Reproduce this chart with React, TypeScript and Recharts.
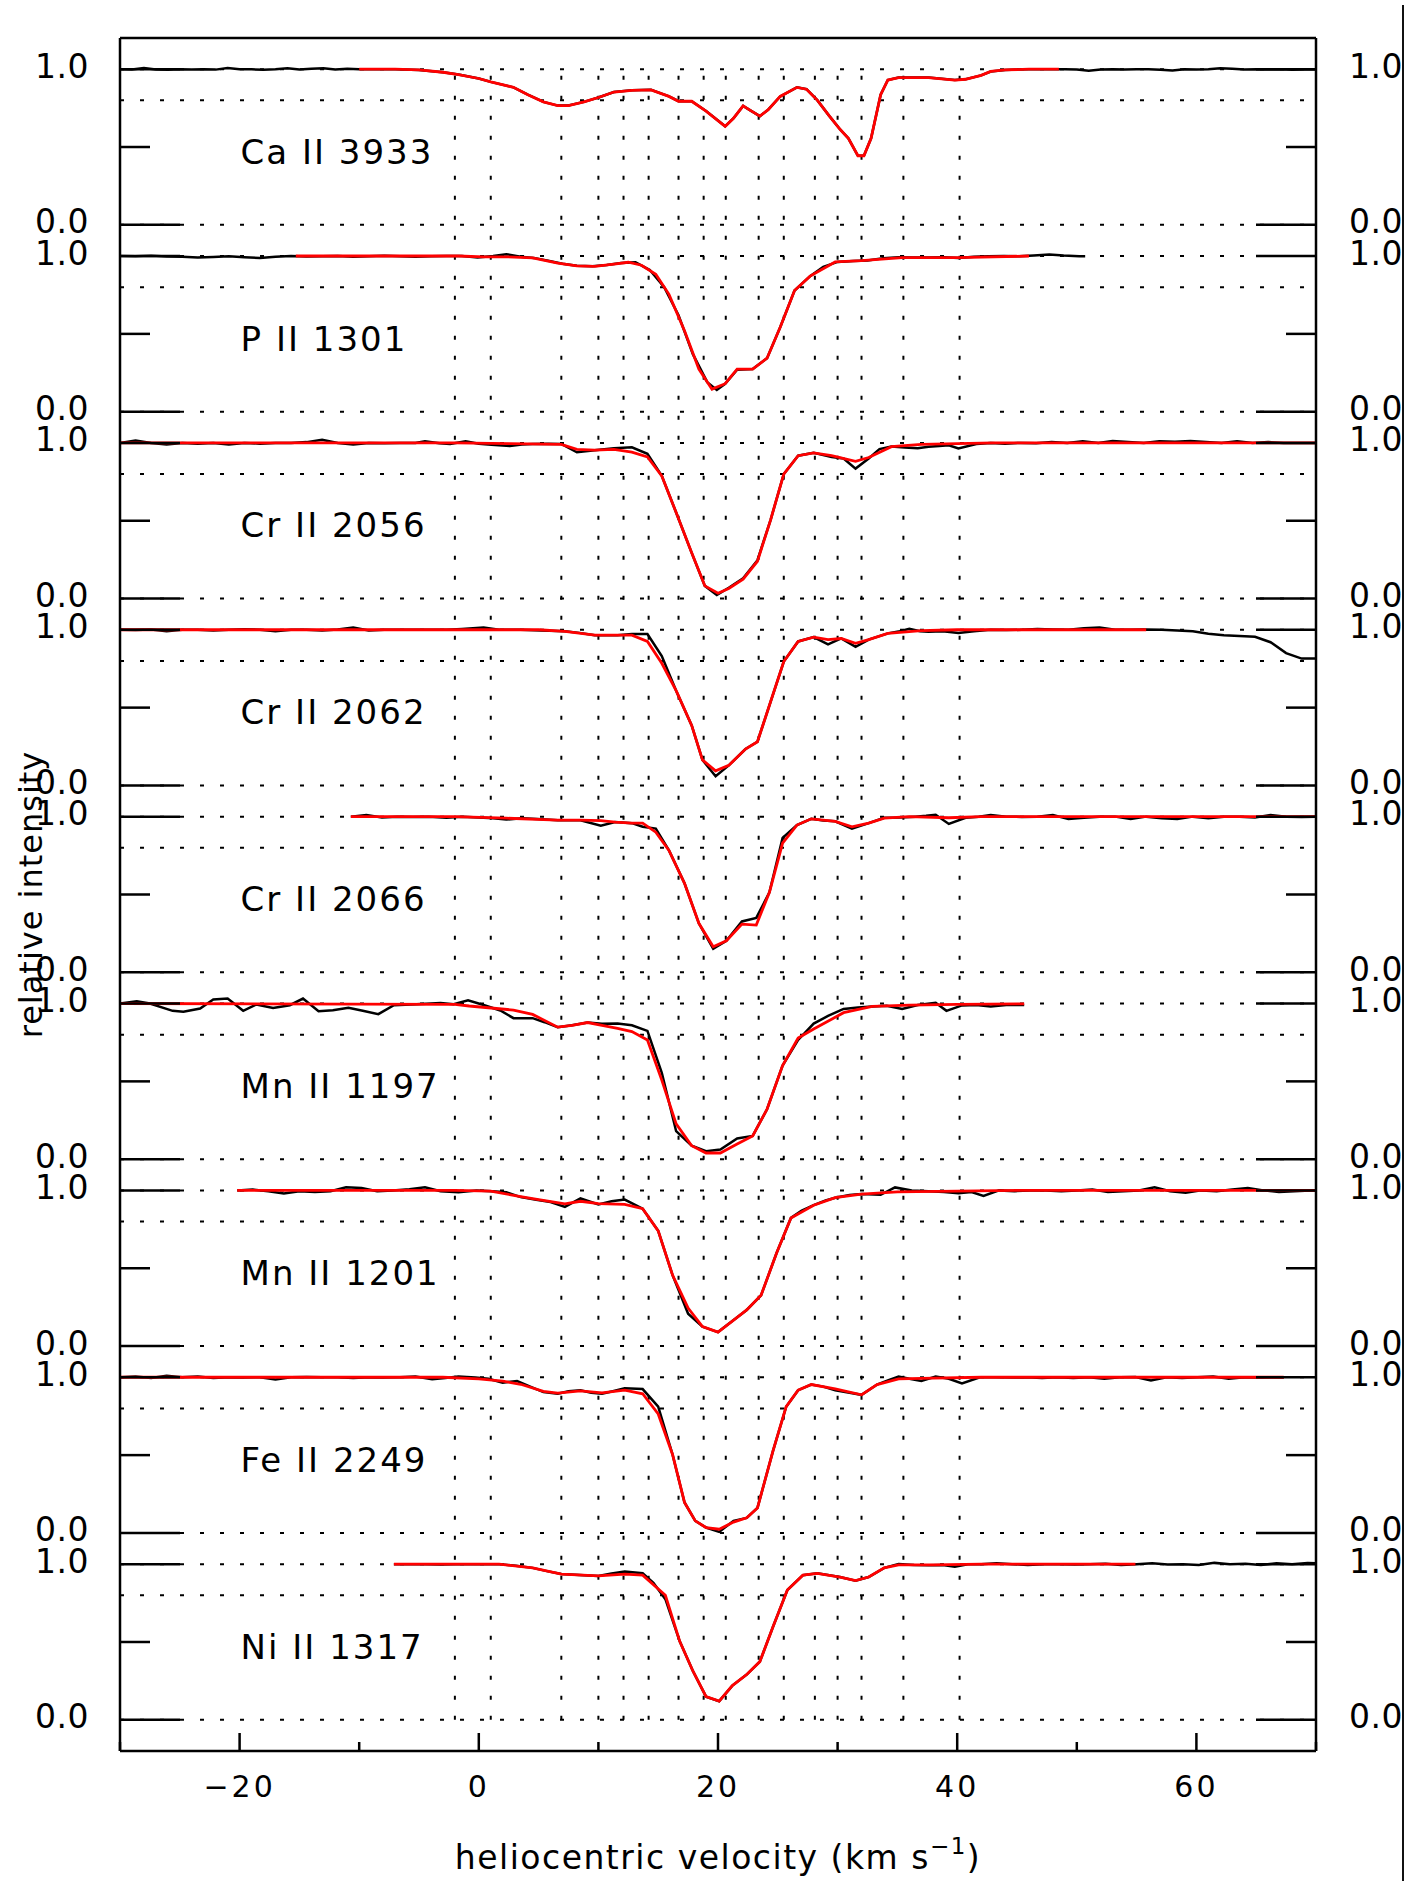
import React from 'react';
import { LineChart, Line, XAxis, YAxis, ReferenceLine, ReferenceDot, Label } from 'recharts';

type Pt = [number, number];

const panelNames = ['Ca II 3933', 'P II 1301', 'Cr II 2056', 'Cr II 2062', 'Cr II 2066', 'Mn II 1197', 'Mn II 1201', 'Fe II 2249', 'Ni II 1317'];

// velocity of the fitted components (dotted verticals)
const componentVel = [-2, 1, 6.9, 10, 12.1, 14.2, 16.7, 18.8, 20.65, 23.4, 25.5, 28.1, 30, 32, 35.5, 40.2];
const guideLevels = [0, 0.8, 1];

const xTicks = [-30, -20, -10, 0, 10, 20, 30, 40, 50, 60, 70];
const xTickLabels = ['', '\u221220', '', '0', '', '20', '', '40', '', '60', ''];
const yTickLabels = ['0.0', '', '1.0'];

// --- observed spectra (black) and fits (red): [velocity, relative intensity]
const caObs: Pt[] = [
  [-30, 1.0], [-29, 0.998], [-28, 1.008], [-27, 0.998], [-26, 0.996], [-25, 0.999], [-24, 0.997], [-23, 1.0], [-22, 0.997],
  [-21, 1.008], [-20, 1.0], [-19, 0.999], [-18, 0.996], [-17, 0.999], [-16, 1.006], [-15, 0.998], [-14, 1.003], [-13, 1.006],
  [-12, 0.998], [-11, 1.002], [-10, 1.0],
];
const caFit: Pt[] = [
  [-10, 1.0], [-7, 1.0], [-5, 0.995], [-3, 0.98], [-1.7, 0.965], [0, 0.94], [1, 0.918], [2.9, 0.883], [4.1, 0.836], [5.4, 0.79],
  [6.6, 0.766], [7.5, 0.766], [8.8, 0.79], [10, 0.818], [11.3, 0.853], [12.8, 0.864], [14.4, 0.867], [15.9, 0.825], [16.7, 0.794],
  [17.8, 0.794], [19, 0.731], [20.6, 0.633], [21.3, 0.685], [22.1, 0.764], [22.7, 0.735], [23.5, 0.698], [24.2, 0.74], [25.2, 0.825],
  [26.6, 0.883], [27.4, 0.871], [28.3, 0.801], [29.3, 0.7], [30.2, 0.614], [30.9, 0.556], [31.7, 0.444], [32.2, 0.444], [32.8, 0.556],
  [33.6, 0.836], [34.2, 0.93], [35.1, 0.946], [37.6, 0.946], [39.8, 0.93], [40.7, 0.935], [42, 0.96], [42.8, 0.985], [44, 0.995],
  [46, 1.0], [48.5, 1.0],
];
const caObsRight: Pt[] = [
  [48.5, 1.0], [49, 1.0], [50, 0.998], [51, 0.99], [52, 0.998], [53, 1.0], [54, 0.997], [55, 0.999], [56, 1.0], [57, 0.996],
  [58, 0.992], [59, 0.999], [60, 0.997], [61, 1.0], [62, 1.006], [63, 1.002], [64, 0.998], [65, 0.999], [66, 0.997], [67, 0.999],
  [68, 0.996], [69, 0.998], [70, 0.997],
];

const pObs: Pt[] = [
  [-30, 1.0], [-28.7, 0.998], [-27.4, 1.002], [-26.1, 0.997], [-24.8, 0.995], [-23.5, 0.99], [-22.2, 0.993], [-20.9, 0.998],
  [-19.6, 0.992], [-18.3, 0.988], [-17, 0.996], [-15.7, 1.0], [-14.4, 0.997], [-13.1, 0.999], [-11.8, 1.0], [-10.5, 0.996],
  [-9.2, 0.999], [-7.9, 1.002], [-6.6, 0.998], [-5.3, 0.995], [-4, 0.999], [-2.7, 1.0], [-1.4, 1.0], [-0.1, 0.99], [1.2, 1.0],
  [2.3, 1.012], [3.5, 0.995], [4.6, 0.988], [5.8, 0.97], [7, 0.95], [8.2, 0.937], [9.5, 0.934], [10.7, 0.942], [11.9, 0.955],
  [13.1, 0.96], [14.3, 0.91], [15.5, 0.8], [16.7, 0.62], [17.9, 0.37], [19.1, 0.19], [19.9, 0.14], [20.6, 0.18], [21.6, 0.27],
  [22.9, 0.275], [24.1, 0.344], [25.2, 0.543], [26.4, 0.778], [27.7, 0.871], [28.8, 0.93], [30, 0.962], [31.3, 0.968],
  [32.5, 0.972], [33.8, 0.985], [35.1, 0.992], [36.3, 0.99], [37.6, 0.99], [38.9, 0.992], [40.1, 0.988], [41.4, 0.996],
  [42.6, 0.998], [43.9, 1.0], [45.2, 0.998], [46.4, 1.004], [47.7, 1.01], [48.9, 1.003], [50.2, 0.998], [50.7, 0.998],
];
const pFit: Pt[] = [
  [-15.3, 1.0], [-5, 1.0], [-1.7, 1.0], [0.4, 0.995], [2.3, 0.995], [4.5, 0.988], [6.6, 0.955], [8.2, 0.937], [9.7, 0.934],
  [11.3, 0.948], [12.5, 0.96], [13.6, 0.941], [14.8, 0.883], [15.9, 0.754], [17.2, 0.52], [18.4, 0.274], [19.5, 0.145],
  [20.6, 0.18], [21.6, 0.274], [22.9, 0.274], [24.1, 0.344], [25.2, 0.543], [26.4, 0.778], [27.7, 0.871], [29.8, 0.962],
  [32, 0.97], [35.4, 0.99], [40.1, 0.99], [46, 1.0],
];

const cr56Obs: Pt[] = [
  [-30, 1.0], [-28.7, 1.015], [-27.4, 1.0], [-26.1, 0.99], [-24.8, 1.0], [-23.5, 0.995], [-22.2, 1.0], [-20.9, 0.99], [-19.6, 1.0],
  [-18.3, 0.995], [-17, 1.0], [-15.7, 1.0], [-14.4, 1.005], [-13.1, 1.02], [-11.8, 1.0], [-10.5, 0.99], [-9.2, 1.0], [-7.9, 0.998],
  [-6.6, 1.0], [-5.3, 1.0], [-4.5, 1.01], [-3.3, 0.998], [-2.4, 0.993], [-1.1, 1.01], [0, 0.995], [1.05, 0.988], [2.6, 0.98],
  [3.6, 0.99], [4.5, 0.993], [5.8, 0.995], [6.9, 0.993], [8.2, 0.94], [9.7, 0.953], [11.3, 0.965], [12.8, 0.972], [14.1, 0.93],
  [15.3, 0.788], [16.5, 0.553], [17.8, 0.294], [18.9, 0.082], [19.9, 0.024], [20.9, 0.07], [22.1, 0.13], [23.3, 0.247],
  [24.4, 0.506], [25.5, 0.8], [26.7, 0.918], [28, 0.936], [29.5, 0.91], [30.5, 0.9], [31.5, 0.835], [32.6, 0.9], [33.5, 0.96],
  [34.5, 0.976], [35.6, 0.97], [36.7, 0.965], [37.6, 0.975], [38.5, 0.98], [39.3, 0.985], [40.1, 0.965], [41.6, 0.993],
  [42.8, 1.0], [44, 0.995], [45.3, 1.0], [46.6, 0.998], [47.9, 1.005], [49.2, 1.0], [50.5, 1.01], [51.8, 1.0], [53, 1.012],
  [54.3, 1.005], [55.6, 1.0], [56.9, 1.01], [58.2, 1.008], [59.5, 1.012], [60.8, 1.005], [62.1, 1.0], [63.4, 1.01], [64.7, 1.0],
  [66, 1.005], [67.3, 1.0], [68.6, 1.0], [70, 1.0],
];
const cr56Fit: Pt[] = [
  [-30, 1.0], [-2, 1.0], [2.6, 0.995], [6.9, 0.99], [8.2, 0.958], [9.7, 0.953], [11.3, 0.958], [12.8, 0.94], [14.1, 0.91],
  [15.3, 0.788], [16.5, 0.553], [17.8, 0.294], [18.9, 0.082], [20, 0.035], [20.9, 0.065], [22.1, 0.125], [23.3, 0.24],
  [24.4, 0.506], [25.5, 0.8], [26.7, 0.918], [28, 0.936], [29.5, 0.918], [31.5, 0.882], [32.6, 0.906], [34.5, 0.976],
  [37, 0.99], [40, 0.995], [43, 1.0], [70, 1.0],
];

const cr62Obs: Pt[] = [
  [-30, 1.0], [-28.7, 0.998], [-27.4, 1.002], [-26.1, 0.99], [-24.8, 1.0], [-23.5, 1.0], [-22.2, 0.995], [-20.9, 1.0],
  [-19.6, 1.004], [-18.3, 1.0], [-17, 0.99], [-15.7, 1.0], [-14.4, 1.0], [-13.1, 0.995], [-11.8, 1.002], [-10.5, 1.015],
  [-9.2, 0.995], [-7.9, 1.0], [-6.6, 1.0], [-5.3, 1.0], [-4, 1.0], [-2.7, 1.0], [-1.4, 1.005], [0.4, 1.014], [1.7, 1.0],
  [3.5, 1.0], [5.2, 0.995], [7.2, 0.99], [8.4, 0.98], [9.7, 0.965], [11.6, 0.965], [12.8, 0.972], [14.1, 0.972], [15.3, 0.831],
  [16.5, 0.609], [17.8, 0.386], [18.7, 0.164], [19.8, 0.059], [20.9, 0.129], [22.3, 0.234], [23.3, 0.281], [24.3, 0.515],
  [25.5, 0.796], [26.7, 0.925], [28, 0.953], [29.2, 0.906], [30.3, 0.944], [31.5, 0.89], [32.6, 0.937], [34.2, 0.977],
  [35.2, 0.99], [36, 1.007], [36.9, 0.99], [37.6, 0.988], [38.8, 0.99], [40.1, 0.979], [41.4, 0.99], [42.8, 1.0], [44.1, 0.998],
  [45.4, 1.0], [46.7, 1.005], [48, 1.002], [49.3, 1.0], [50.6, 1.01], [51.9, 1.015], [53.2, 1.0], [54.5, 1.0], [55.8, 1.002],
  [57.1, 1.0], [58.4, 0.995], [59.7, 0.99], [61, 0.975], [62.3, 0.965], [63.6, 0.96], [64.9, 0.955], [66.2, 0.92], [67.5, 0.85],
  [68.8, 0.815], [70, 0.815],
];
const cr62Fit: Pt[] = [
  [-30, 1.0], [5, 1.0], [7.2, 0.99], [9.7, 0.965], [12.8, 0.965], [14.1, 0.925], [15.3, 0.785], [16.5, 0.609], [17.8, 0.386],
  [18.7, 0.164], [19.8, 0.094], [20.9, 0.129], [22.3, 0.234], [23.3, 0.281], [24.3, 0.515], [25.5, 0.796], [26.7, 0.925],
  [28, 0.953], [29.2, 0.937], [30.3, 0.944], [31.5, 0.913], [32.6, 0.937], [34.2, 0.977], [37, 0.995], [40, 1.0], [55.8, 1.0],
];

const cr66Obs: Pt[] = [
  [-10.7, 1.0], [-9.4, 1.01], [-8.1, 0.995], [-6.8, 1.0], [-5.5, 0.998], [-4.2, 1.0], [-2.7, 0.993], [-1.4, 1.0], [0, 0.995],
  [1.2, 0.99], [2.3, 0.981], [3.6, 0.99], [4.9, 0.985], [6.6, 0.977], [8.5, 0.977], [10.2, 0.942], [11.4, 0.965], [12.8, 0.958],
  [13.7, 0.935], [14.8, 0.923], [15.9, 0.783], [17.2, 0.572], [18.4, 0.315], [19.6, 0.152], [20.7, 0.203], [22, 0.327],
  [23.2, 0.35], [24.3, 0.514], [25.4, 0.864], [26.6, 0.946], [27.8, 0.986], [28.8, 0.975], [29.8, 0.97], [31.2, 0.923],
  [32.6, 0.958], [33.9, 0.993], [35.2, 0.995], [36.5, 1.0], [37.4, 1.005], [38.2, 1.012], [39.3, 0.953], [40.7, 0.993],
  [41.8, 1.0], [42.8, 1.01], [44.1, 1.0], [45.4, 0.998], [46.7, 1.0], [48, 1.01], [49.3, 0.985], [50.6, 0.993], [51.9, 1.0],
  [53.2, 1.0], [54.5, 0.985], [55.8, 1.0], [57.1, 0.99], [58.4, 0.985], [59.7, 1.0], [61, 0.99], [62.3, 1.0], [63.6, 1.0],
  [64.9, 0.995], [66.2, 1.01], [67.5, 1.0], [68.8, 0.998], [70, 1.0],
];
const cr66Fit: Pt[] = [
  [-10.7, 1.0], [-2, 1.0], [2.3, 0.99], [6.6, 0.977], [8.5, 0.977], [10.2, 0.974], [11.4, 0.965], [12.8, 0.958], [13.7, 0.958],
  [14.8, 0.9], [15.9, 0.783], [17.2, 0.572], [18.4, 0.315], [19.6, 0.164], [20.7, 0.203], [22, 0.31], [23.2, 0.304],
  [24.3, 0.514], [25.4, 0.83], [26.6, 0.946], [27.8, 0.986], [29.8, 0.97], [31.2, 0.935], [32.6, 0.958], [33.9, 0.99],
  [36, 1.0], [39.3, 0.993], [42, 1.0], [70, 1.0],
];

const mn97Obs: Pt[] = [
  [-30, 1.0], [-28.6, 1.015], [-27.5, 1.0], [-25.6, 0.953], [-24.7, 0.947], [-23.3, 0.968], [-22.2, 1.026], [-21, 1.032],
  [-19.7, 0.953], [-18.6, 0.994], [-17.2, 0.972], [-15.8, 0.989], [-14.7, 1.032], [-13.4, 0.951], [-12.2, 0.957],
  [-10.9, 0.972], [-9.7, 0.953], [-8.4, 0.932], [-7.1, 0.989], [-5.2, 0.996], [-3.2, 1.004], [-2.1, 0.995], [-0.9, 1.02],
  [0.4, 0.99], [1.8, 0.955], [2.9, 0.906], [4.5, 0.906], [5.5, 0.88], [6.6, 0.848], [7.8, 0.86], [9.1, 0.878], [10.3, 0.87],
  [11.6, 0.871], [12.8, 0.86], [14.1, 0.824], [15.3, 0.555], [16.5, 0.18], [17.8, 0.087], [19, 0.052], [20.2, 0.063],
  [21.6, 0.133], [22.9, 0.15], [24.1, 0.321], [25.4, 0.602], [26.7, 0.766], [28, 0.871], [29.2, 0.92], [30.5, 0.965],
  [31.7, 0.975], [32.9, 0.981], [34.1, 0.985], [35.4, 0.965], [36.7, 0.99], [38.2, 1.005], [39.1, 0.953], [40.4, 0.988],
  [41.6, 0.99], [42.8, 0.981], [44.1, 0.99], [45.6, 0.99],
];
const mn97Fit: Pt[] = [
  [-30, 1.0], [-2, 0.995], [-0.8, 0.984], [2.9, 0.958], [4.5, 0.93], [6.6, 0.848], [7.8, 0.86], [9.1, 0.878], [10.3, 0.86],
  [11.6, 0.841], [12.8, 0.82], [14.1, 0.766], [15.3, 0.508], [16.5, 0.227], [17.8, 0.087], [19, 0.04], [20.2, 0.04],
  [21.6, 0.098], [22.9, 0.15], [24.1, 0.321], [25.4, 0.602], [26.7, 0.778], [28, 0.836], [30.5, 0.941], [32.9, 0.981],
  [36, 0.99], [40, 0.995], [45.6, 0.998],
];

const mn01Obs: Pt[] = [
  [-20.2, 1.0], [-18.9, 1.005], [-17.6, 0.995], [-16.3, 0.98], [-15, 0.995], [-13.7, 0.99], [-12.4, 0.995], [-11.1, 1.02],
  [-9.8, 1.015], [-8.5, 0.995], [-7.2, 1.0], [-5.8, 1.007], [-4.5, 1.02], [-3.2, 0.995], [-1.7, 0.988], [-0.2, 1.0], [1.1, 0.995],
  [2.3, 0.988], [3.5, 0.957], [4.8, 0.94], [6, 0.925], [7.2, 0.894], [8.5, 0.948], [10, 0.91], [11.1, 0.93], [12.2, 0.941],
  [13.7, 0.882], [15, 0.74], [16.2, 0.456], [17.5, 0.208], [18.7, 0.125], [20, 0.09], [21.2, 0.161], [22.4, 0.232], [23.6, 0.326],
  [24.9, 0.598], [26.1, 0.823], [27, 0.87], [28, 0.905], [29, 0.935], [29.8, 0.953], [31, 0.97], [32, 0.976], [33.6, 0.972],
  [34.8, 1.019], [36.2, 1.0], [37.6, 0.995], [38.9, 0.99], [40.1, 0.981], [41.2, 0.99], [42.2, 0.965], [43.5, 1.0], [44.8, 0.995],
  [46.1, 1.0], [47.4, 1.0], [48.7, 0.995], [50, 1.0], [51.3, 1.005], [52.6, 0.99], [53.9, 0.995], [55.2, 1.0], [56.5, 1.02],
  [57.8, 0.995], [59.1, 0.985], [60.4, 1.0], [61.7, 0.995], [63, 1.005], [64.3, 1.015], [65.6, 1.0], [66.9, 0.99], [68.2, 0.995],
  [69.5, 1.0], [70, 1.0],
];
const mn01Fit: Pt[] = [
  [-20.2, 1.0], [-2, 1.0], [1, 0.995], [3.5, 0.96], [5, 0.94], [7.2, 0.913], [8.5, 0.93], [10, 0.915], [12.2, 0.91],
  [13.7, 0.882], [15, 0.74], [16.2, 0.456], [17.5, 0.244], [18.7, 0.125], [20, 0.09], [21.2, 0.161], [22.4, 0.232],
  [23.6, 0.326], [24.9, 0.598], [26.1, 0.823], [28, 0.905], [29.8, 0.953], [32, 0.976], [35, 0.99], [40, 0.995], [45, 1.0],
  [70, 1.0],
];

const feObs: Pt[] = [
  [-30, 1.0], [-28.7, 1.005], [-27.4, 0.995], [-26.1, 1.01], [-24.8, 1.0], [-23.5, 1.005], [-22.2, 0.995], [-20.9, 1.0],
  [-19.6, 0.998], [-18.3, 1.0], [-17, 0.985], [-15.7, 1.0], [-14.4, 1.002], [-13.1, 1.0], [-11.8, 1.0], [-10.5, 0.995],
  [-9.2, 1.0], [-7.9, 0.998], [-6.6, 1.0], [-5.3, 1.005], [-3.9, 0.988], [-2.8, 0.995], [-1.7, 1.005], [-0.3, 0.998],
  [0.8, 0.99], [2, 0.965], [3.2, 0.976], [4.3, 0.94], [5.4, 0.905], [6.6, 0.894], [7.5, 0.91], [8.5, 0.917], [9.4, 0.9],
  [10.3, 0.894], [11.2, 0.91], [12.2, 0.929], [13.7, 0.924], [15, 0.811], [16.2, 0.504], [17.2, 0.196], [18.1, 0.078],
  [19, 0.035], [20.1, 0.007], [21.3, 0.078], [22.4, 0.097], [23.3, 0.161], [24.6, 0.527], [25.7, 0.811], [26.7, 0.917],
  [27.8, 0.953], [28.8, 0.94], [29.8, 0.917], [31, 0.9], [32, 0.887], [33.3, 0.953], [34.2, 0.98], [35.1, 1.005], [36, 0.99],
  [37, 0.976], [38.2, 1.005], [39.3, 0.99], [40.4, 0.96], [41.9, 1.0], [43.2, 1.0], [44.5, 0.998], [45.8, 1.0], [47.1, 0.995],
  [48.4, 1.0], [49.7, 0.995], [51, 1.0], [52.3, 0.99], [53.6, 1.0], [54.9, 1.002], [56.2, 0.98], [57.5, 1.0], [58.8, 0.995],
  [60.1, 1.0], [61.4, 1.005], [62.7, 0.99], [64, 1.0], [65.3, 0.998], [66.4, 1.0], [67.3, 1.0],
];
const feFit: Pt[] = [
  [-30, 1.0], [-3, 1.0], [0, 0.99], [2, 0.975], [3.5, 0.955], [5.4, 0.91], [6.6, 0.898], [8.5, 0.912], [10.3, 0.9], [12.2, 0.917],
  [13.7, 0.894], [15, 0.764], [16.2, 0.504], [17.2, 0.196], [18.1, 0.078], [19, 0.035], [20.1, 0.024], [21.3, 0.07],
  [22.4, 0.097], [23.3, 0.161], [24.6, 0.527], [25.7, 0.811], [26.7, 0.917], [27.8, 0.953], [29.8, 0.925], [32, 0.887],
  [33.3, 0.953], [35.1, 0.99], [38, 0.995], [42, 1.0], [67.3, 1.0],
];

const niObs: Pt[] = [
  [-7.1, 1.0], [-5.8, 1.0], [-4.5, 1.0], [-3.2, 0.998], [-1.9, 1.0], [-0.6, 1.0], [0.7, 1.0], [1.7, 1.0], [3.1, 0.99], [4.5, 0.976],
  [5.7, 0.955], [6.9, 0.936], [8.4, 0.93], [10, 0.924], [11.1, 0.94], [12.2, 0.953], [13.7, 0.941], [14.6, 0.88], [15.6, 0.775],
  [16.8, 0.504], [17.9, 0.314], [19, 0.149], [20.1, 0.12], [21.2, 0.22], [22.4, 0.291], [23.5, 0.374], [24.6, 0.598],
  [25.8, 0.834], [27.1, 0.929], [28.3, 0.941], [30.2, 0.917], [31.5, 0.894], [32.6, 0.917], [33.9, 0.976], [35.1, 1.0],
  [36.4, 0.995], [37.6, 0.993], [38.8, 0.995], [39.8, 0.983], [41, 1.0], [42, 1.0], [43.3, 1.005], [44.6, 1.0], [45.9, 0.995],
  [47.2, 1.0], [48.5, 1.0], [49.8, 0.998], [51.1, 1.0], [52.4, 1.002], [53.7, 0.995], [55, 1.0], [56.3, 1.005], [57.6, 0.998],
  [58.9, 1.0], [60.2, 0.995], [61.5, 1.008], [62.8, 1.0], [64.1, 1.003], [65.4, 0.995], [66.7, 1.005], [68, 1.0], [69.3, 1.008],
  [70, 1.005],
];
const niFit: Pt[] = [
  [-7.1, 1.0], [1.7, 1.0], [4.5, 0.976], [6.9, 0.936], [10, 0.924], [12.2, 0.936], [13.7, 0.929], [15.6, 0.8], [16.8, 0.504],
  [17.9, 0.314], [19, 0.149], [20.1, 0.12], [21.2, 0.22], [22.4, 0.291], [23.5, 0.374], [24.6, 0.598], [25.8, 0.834],
  [27.1, 0.929], [28.3, 0.941], [30.2, 0.917], [31.5, 0.894], [32.6, 0.917], [33.9, 0.976], [35.1, 0.995], [38, 0.995],
  [42, 1.0], [54.9, 1.0],
];

const observed: Pt[][] = [[...caObs, ...caFit, ...caObsRight.slice(1)], pObs, cr56Obs, cr62Obs, cr66Obs, mn97Obs, mn01Obs, feObs, niObs];
const fits: Pt[][] = [caFit, pFit, cr56Fit, cr62Fit, cr66Fit, mn97Fit, mn01Fit, feFit, niFit];

// stacking: each panel gets its own hidden y axis, shifted by PANEL_GAP
const PANEL_GAP = 1.2;
const STACK: [number, number] = [-0.2, 10.8];
const N = panelNames.length;
const baseOf = (i: number) => (N - 1 - i) * PANEL_GAP;

const stackTicks: number[] = [];
const stackKind = new Map<string, number>();
for (let i = 0; i < N; i++) {
  [0, 0.5, 1].forEach((lv, k) => {
    const t = +(baseOf(i) + lv).toFixed(3);
    stackTicks.push(t);
    stackKind.set(t.toFixed(3), k);
  });
}

const FONT = '"DejaVu Sans", sans-serif';
const toRows = (pts: Pt[]) => pts.map(([v, f]) => ({ v, f }));

const LeftTick = (p: any) => {
  const k = stackKind.get(Number(p.payload.value).toFixed(3)) ?? 1;
  const len = k === 1 ? 30 : 60;
  return (
    <g>
      <line x1={p.x} x2={p.x + len} y1={p.y} y2={p.y} stroke="#000" strokeWidth={2.5} />
      {yTickLabels[k] && (
        <text x={p.x - 31} y={p.y - 3} textAnchor="end" dominantBaseline="central" fontSize={33} letterSpacing={0.5} fontFamily={FONT} fill="#000">
          {yTickLabels[k]}
        </text>
      )}
    </g>
  );
};

const RightTick = (p: any) => {
  const k = stackKind.get(Number(p.payload.value).toFixed(3)) ?? 1;
  const len = k === 1 ? 30 : 60;
  return (
    <g>
      <line x1={p.x} x2={p.x - len} y1={p.y} y2={p.y} stroke="#000" strokeWidth={2.5} />
      {yTickLabels[k] && (
        <text x={p.x + 33} y={p.y - 3} textAnchor="start" dominantBaseline="central" fontSize={33} letterSpacing={0.5} fontFamily={FONT} fill="#000">
          {yTickLabels[k]}
        </text>
      )}
    </g>
  );
};

const BottomTick = (p: any) => {
  const idx = xTicks.indexOf(p.payload.value);
  const label = xTickLabels[idx];
  const len = label ? 18 : 9;
  return (
    <g>
      <line x1={p.x} x2={p.x} y1={p.y} y2={p.y - len} stroke="#000" strokeWidth={2.5} />
      {label && (
        <text x={p.x} y={p.y + 35} textAnchor="middle" dominantBaseline="central" fontSize={30} letterSpacing={3} fontFamily={FONT} fill="#000">
          {label}
        </text>
      )}
    </g>
  );
};

const TopTick = (p: any) => {
  const idx = xTicks.indexOf(p.payload.value);
  const len = xTickLabels[idx] ? 18 : 9;
  return <line x1={p.x} x2={p.x} y1={p.y} y2={p.y + len} stroke="#000" strokeWidth={2.5} />;
};

const XTitle = (p: any) => {
  const vb = p.viewBox;
  return (
    <text x={vb.x + vb.width / 2} y={vb.y + 118} textAnchor="middle" fontSize={33} letterSpacing={1.5} fontFamily={FONT} fill="#000">
      heliocentric velocity (km s
      <tspan dy={-15} fontSize={23}>{'\u22121'}</tspan>
      <tspan dy={15}>)</tspan>
    </text>
  );
};

const YTitle = (p: any) => {
  const vb = p.viewBox;
  const cx = vb.x - 18;
  const cy = vb.y + vb.height / 2;
  return (
    <text x={cx} y={cy} transform={`rotate(-90 ${cx} ${cy})`} textAnchor="middle" fontSize={32} letterSpacing={1} fontFamily={FONT} fill="#000">
      relative intensity
    </text>
  );
};

export default function App() {
  return (
    <div style={{ position: 'absolute', left: 0, top: 0, width: 1427, height: 1881, background: '#fff' }}>
      <LineChart width={1427} height={1881} margin={{ top: 28, right: 51, bottom: 70, left: 60 }}>
        <XAxis
          xAxisId="b"
          dataKey="v"
          type="number"
          domain={[-30, 70]}
          ticks={xTicks}
          interval={0}
          allowDataOverflow
          height={60}
          tickLine={false}
          tickSize={0}
          tickMargin={0}
          axisLine={{ stroke: '#000', strokeWidth: 2.5 }}
          tick={(p: any) => <BottomTick {...p} />}
        >
          <Label content={XTitle} />
        </XAxis>
        <XAxis
          xAxisId="t"
          orientation="top"
          type="number"
          domain={[-30, 70]}
          ticks={xTicks}
          interval={0}
          allowDataOverflow
          height={10}
          tickLine={false}
          tickSize={0}
          tickMargin={0}
          axisLine={{ stroke: '#000', strokeWidth: 2.5 }}
          tick={(p: any) => <TopTick {...p} />}
        />
        <YAxis
          yAxisId="L"
          type="number"
          domain={STACK}
          ticks={stackTicks}
          interval={0}
          allowDataOverflow
          width={60}
          tickLine={false}
          tickSize={0}
          tickMargin={0}
          axisLine={{ stroke: '#000', strokeWidth: 2.5 }}
          tick={(p: any) => <LeftTick {...p} />}
        >
          <Label content={YTitle} />
        </YAxis>
        <YAxis
          yAxisId="R"
          orientation="right"
          type="number"
          domain={STACK}
          ticks={stackTicks}
          interval={0}
          allowDataOverflow
          width={60}
          tickLine={false}
          tickSize={0}
          tickMargin={0}
          axisLine={{ stroke: '#000', strokeWidth: 2.5 }}
          tick={(p: any) => <RightTick {...p} />}
        />
        {panelNames.map((_, i) => (
          <YAxis
            key={`ax${i}`}
            yAxisId={`p${i}`}
            hide
            type="number"
            domain={[STACK[0] - baseOf(i), STACK[1] - baseOf(i)]}
            allowDataOverflow
          />
        ))}

        {componentVel.map((v) => (
          <ReferenceLine
            key={`cv${v}`}
            xAxisId="b"
            yAxisId="L"
            segment={[{ x: v, y: 0 }, { x: v, y: baseOf(0) + 1.05 }]}
            stroke="#000"
            strokeWidth={2}
            strokeDasharray="4 16"
            ifOverflow="visible"
          />
        ))}
        {panelNames.map((_, i) =>
          guideLevels.map((lv) => (
            <ReferenceLine
              key={`g${i}-${lv}`}
              xAxisId="b"
              yAxisId={`p${i}`}
              y={lv}
              stroke="#000"
              strokeWidth={2}
              strokeDasharray="4 16"
            />
          ))
        )}

        {observed.map((pts, i) => (
          <Line
            key={`obs${i}`}
            data={toRows(pts)}
            dataKey="f"
            xAxisId="b"
            yAxisId={`p${i}`}
            type="linear"
            stroke="#000"
            strokeWidth={2.5}
            dot={false}
            activeDot={false}
            isAnimationActive={false}
          />
        ))}
        {fits.map((pts, i) => (
          <Line
            key={`fit${i}`}
            data={toRows(pts)}
            dataKey="f"
            xAxisId="b"
            yAxisId={`p${i}`}
            type="linear"
            stroke="#ff0000"
            strokeWidth={2.8}
            dot={false}
            activeDot={false}
            isAnimationActive={false}
          />
        ))}

        {panelNames.map((name, i) => (
          <ReferenceDot
            key={`lab${i}`}
            xAxisId="b"
            yAxisId={`p${i}`}
            x={-20}
            y={0.47}
            r={0}
            shape={(p: any) => (
              <text x={p.cx + 1} y={p.cy} dominantBaseline="central" fontSize={34} letterSpacing={2} fontFamily={FONT} fill="#000">
                {name}
              </text>
            )}
          />
        ))}
      </LineChart>
      <div style={{ position: 'absolute', left: 1402, top: 5, width: 2, height: 1876, background: '#111' }} />
    </div>
  );
}
